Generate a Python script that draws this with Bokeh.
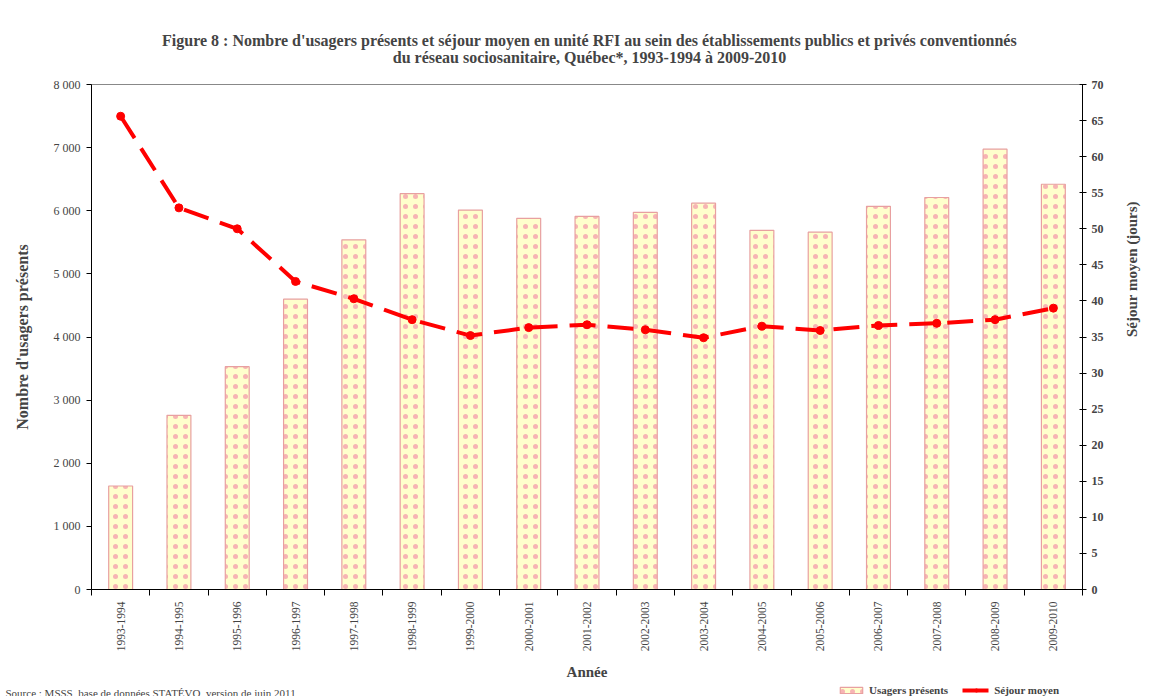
import math
from bokeh.plotting import figure
from bokeh.layouts import column
from bokeh.models import (Range1d, LinearAxis, FixedTicker, Legend, LegendItem, ColumnDataSource, Label)
from bokeh.embed import file_html
from bokeh.resources import INLINE

annees = ["1993-1994", "1994-1995", "1995-1996", "1996-1997", "1997-1998", "1998-1999",
          "1999-2000", "2000-2001", "2001-2002", "2002-2003", "2003-2004", "2004-2005",
          "2005-2006", "2006-2007", "2007-2008", "2008-2009", "2009-2010"]
usagers = [1640, 2760, 3530, 4600, 5540, 6270, 6010, 5880, 5910, 5975, 6120,
           5690, 5660, 6070, 6210, 6975, 6420]
sejour = [65.6, 52.9, 50.0, 42.7, 40.3, 37.4, 35.2, 36.3, 36.7, 36.0, 34.9,
          36.5, 35.9, 36.6, 36.9, 37.4, 39.0]
left_ticks = [0, 1000, 2000, 3000, 4000, 5000, 6000, 7000, 8000]
left_tick_labels = ["0", "1 000", "2 000", "3 000", "4 000", "5 000", "6 000", "7 000", "8 000"]
right_ticks = [0, 5, 10, 15, 20, 25, 30, 35, 40, 45, 50, 55, 60, 65, 70]
titre = ["Figure 8 : Nombre d'usagers présents et séjour moyen en unité RFI au sein des établissements publics et privés conventionnés",
         "du réseau sociosanitaire, Québec*, 1993-1994 à 2009-2010"]
source_txt = "Source : MSSS, base de données STATÉVO, version de juin 2011"

xs = list(range(len(annees)))
src = ColumnDataSource(dict(x=xs, usagers=usagers, sejour=sejour, annee=annees))

SERIF = "Liberation Serif"
W = 1150
BAR_STYLE = dict(fill_color="#FFFFCC", line_color="#E8A0A0", line_width=1.2,
                 hatch_pattern="dot", hatch_color="#F7B4B4", hatch_scale=10, hatch_weight=0.4)
LINE_STYLE = dict(line_color="#FF0000", line_width=4, line_dash="26 12")
DOT_STYLE = dict(size=8, fill_color="#FF0000", line_color="#FF0000")


def strip(height):
    s = figure(width=W, height=height, output_backend="svg", toolbar_location=None,
               x_range=Range1d(0, 1), y_range=Range1d(0, 1), x_axis_type=None, y_axis_type=None,
               min_border_left=0, min_border_right=0, min_border_top=0, min_border_bottom=0)
    s.min_border = 0
    s.xgrid.visible = False
    s.ygrid.visible = False
    s.outline_line_color = None
    s.frame_align = False
    return s


# header with the two title lines
h = strip(71)
h.add_layout(Label(x=589, y=31, x_units="screen", y_units="screen", text=titre[0],
                   text_align="center", text_baseline="middle",
                   text_font=SERIF, text_font_size="16px", text_font_style="bold"))
h.add_layout(Label(x=589, y=14, x_units="screen", y_units="screen", text=titre[1],
                   text_align="center", text_baseline="middle",
                   text_font=SERIF, text_font_size="16px", text_font_style="bold"))

p = figure(width=W, height=612, output_backend="svg", toolbar_location=None,
           x_range=Range1d(-0.5, len(annees) - 0.5), y_range=Range1d(0, 8000),
           min_border_left=91, min_border_right=63, min_border_top=13, min_border_bottom=94)
p.frame_align = False
p.xgrid.visible = False
p.ygrid.visible = False
p.outline_line_color = "#888888"
p.outline_line_width = 1

p.extra_y_ranges = {"right": Range1d(0, 70)}

bars = p.vbar(x="x", top="usagers", width=0.41, source=src, **BAR_STYLE)
line = p.line(x="x", y="sejour", source=src, y_range_name="right", **LINE_STYLE)
dots = p.scatter(x="x", y="sejour", source=src, y_range_name="right", **DOT_STYLE)

# x axis
xax = p.xaxis[0]
xax.ticker = FixedTicker(ticks=xs, minor_ticks=[i - 0.5 for i in range(len(annees) + 1)])
xax.major_label_overrides = {i: a for i, a in enumerate(annees)}
xax.major_tick_line_color = None
xax.major_tick_in = 0
xax.major_tick_out = 2
xax.minor_tick_in = 0
xax.minor_tick_out = 6
xax.minor_tick_line_color = "black"
xax.major_label_orientation = math.pi / 2
xax.major_label_text_font = SERIF
xax.major_label_text_font_size = "11.5px"
xax.major_label_standoff = 6
xax.axis_label = "Année"
xax.axis_label_text_font = SERIF
xax.axis_label_text_font_size = "15px"
xax.axis_label_text_font_style = "bold"
xax.axis_label_standoff = 10
xax.axis_line_color = "black"

# left axis
yax = p.yaxis[0]
yax.ticker = FixedTicker(ticks=left_ticks)
yax.major_label_overrides = {t: l for t, l in zip(left_ticks, left_tick_labels)}
yax.minor_tick_line_color = None
yax.major_tick_in = 0
yax.major_tick_out = 5
yax.major_label_standoff = 6
yax.major_label_text_font = SERIF
yax.major_label_text_font_size = "12px"
yax.axis_label = "Nombre d'usagers présents"
yax.axis_label_text_font = SERIF
yax.axis_label_text_font_size = "16px"
yax.axis_label_text_font_style = "bold"
yax.axis_label_standoff = 20

# right axis
rax = LinearAxis(y_range_name="right", ticker=FixedTicker(ticks=right_ticks))
rax.minor_tick_line_color = None
rax.major_tick_in = 3
rax.major_tick_out = 4
rax.major_label_text_font = SERIF
rax.major_label_text_font_size = "12px"
rax.major_label_text_font_style = "bold"
rax.axis_label = "Séjour moyen (jours)"
rax.axis_label_orientation = math.pi / 2
rax.axis_label_text_font = SERIF
rax.axis_label_text_font_size = "15px"
rax.axis_label_text_font_style = "bold"
rax.axis_label_standoff = 25
p.add_layout(rax, "right")

# footer strip: source note and legend
f = strip(13)
f.add_layout(Label(x=5, y=4, x_units="screen", y_units="screen", text=source_txt,
                   text_font=SERIF, text_font_size="11px", text_baseline="alphabetic"))
swatch = ColumnDataSource(dict(x=[float("nan")], y=[float("nan")]))
lb = f.vbar(x="x", top="y", width=0.4, source=swatch, **BAR_STYLE)
ll = f.line(x="x", y="y", source=swatch, **LINE_STYLE)
ld = f.scatter(x="x", y="y", source=swatch, **DOT_STYLE)
legend = Legend(items=[LegendItem(label="Usagers présents", renderers=[lb]),
                       LegendItem(label="Séjour moyen", renderers=[ll, ld])],
                orientation="horizontal", location=(837, 0),
                label_text_font=SERIF, label_text_font_size="11px", label_text_font_style="bold",
                glyph_width=28, glyph_height=8, spacing=14, padding=0, margin=0,
                border_line_color=None, background_fill_alpha=0, label_standoff=4)
f.add_layout(legend)

layout = column(h, p, f, spacing=0)
open("out.html", "w").write(file_html(layout, INLINE))
